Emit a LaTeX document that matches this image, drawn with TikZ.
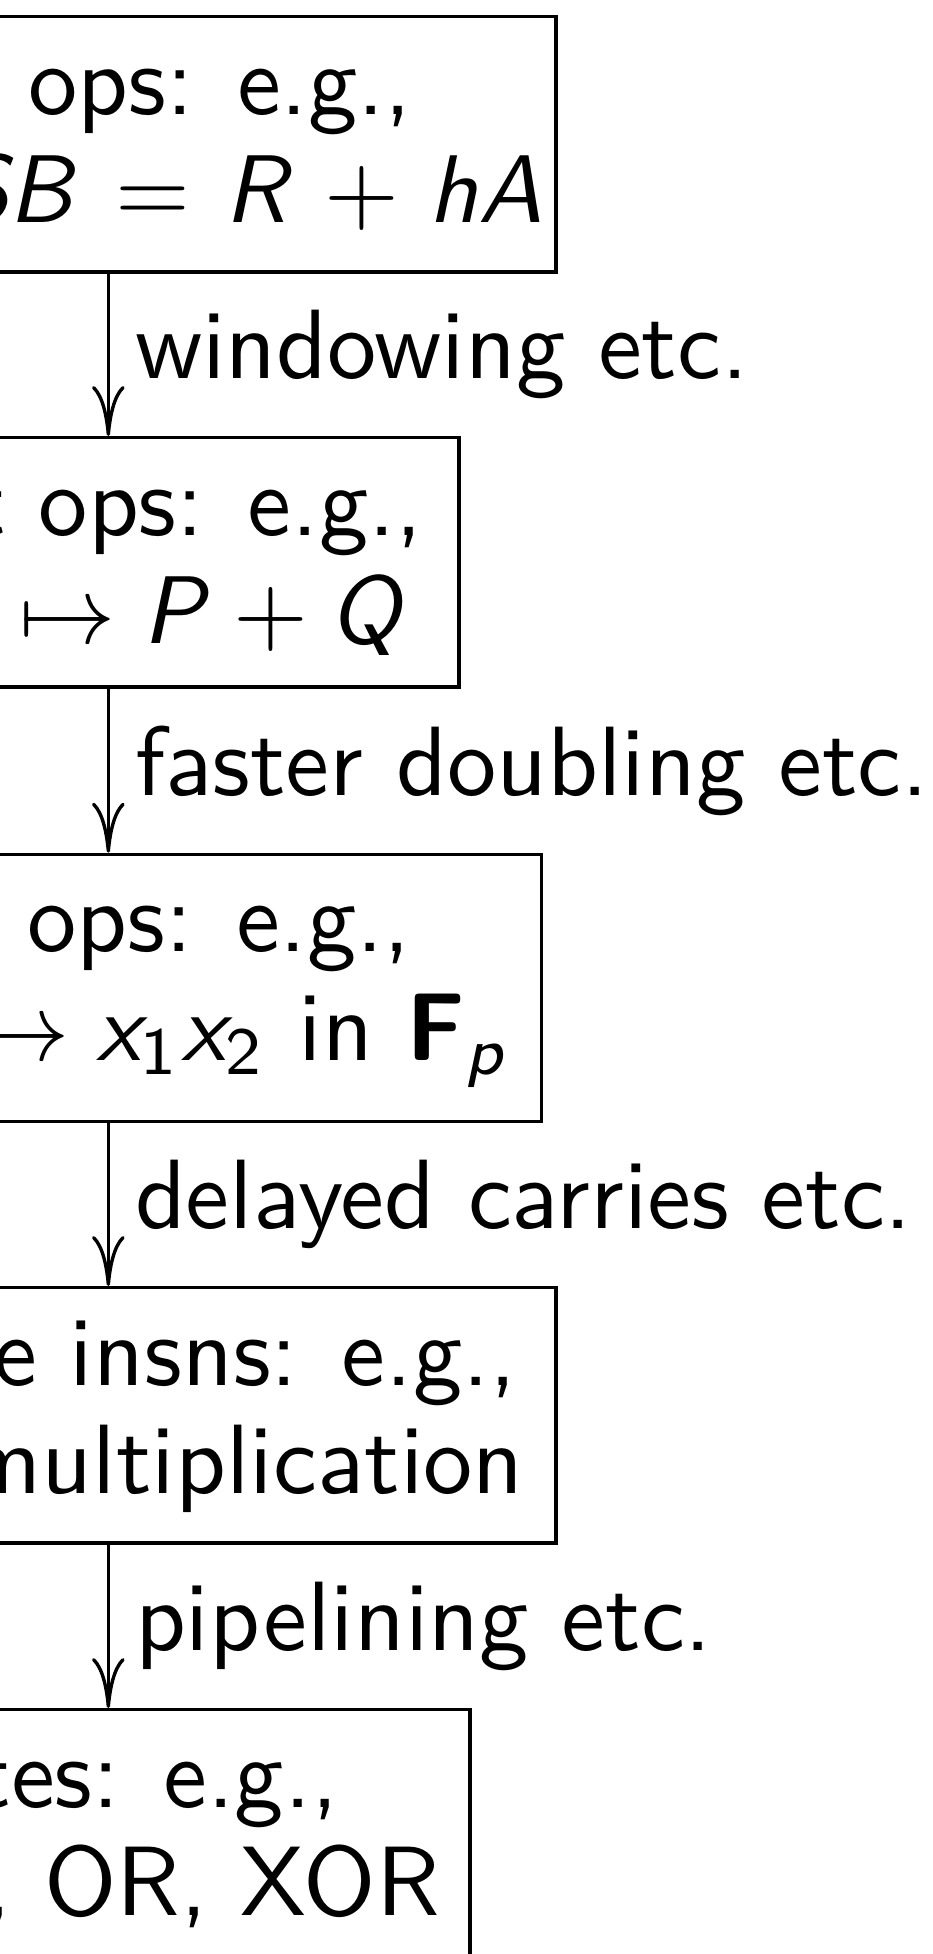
\documentclass[tikz,border=0pt]{standalone}
\usepackage{tikz}
\usetikzlibrary{arrows.meta}
\DeclareMathAlphabet{\msl}{OT1}{cmss}{m}{sl}
\DeclareMathAlphabet{\mbf}{OT1}{cmss}{bx}{n}
\SetSymbolFont{operators}{normal}{OT1}{cmss}{m}{n}

\begin{document}
\begin{tikzpicture}[>={Computer Modern Rightarrow[length=5.2pt,width=3.4pt]},
    every node/.style={font=\sffamily\fontsize{10.25}{11.3}\selectfont},
    opsbox/.style={draw, line width=0.35pt, anchor=north, align=flush right, inner sep=3.333pt, text height=6.8pt},
    steplabel/.style={right, inner xsep=2.6pt}]
      \useasboundingbox (0,0) rectangle (3.4104,-7.1425);
      \node[opsbox, text width=86.45pt, text depth=13.1pt] (sc) at (0.396,-0.0548) {ops: e.g.,\hspace*{11.6pt}\mbox{}\\ $\thickmuskip=6.5mu \medmuskip=5.5mu \msl{S}\msl{B}=\msl{R}+\msl{h}\msl{A}$\hspace*{-1.9pt}\mbox{}};
      \node[opsbox, text width=66.28pt, text depth=12.45pt] (pt) at (0.396,-1.5937) {t ops: e.g.,\hspace*{0.4pt}\mbox{}\\ $\mapsto\msl{P}+\msl{Q}$\hspace*{2pt}\mbox{}};
      \node[opsbox, text width=83.44pt, text depth=14.3pt] (fd) at (0.396,-3.1169) {ops: e.g.,\hspace*{10.2pt}\mbox{}\\ $\mapsto\msl{x}_1\msl{x}_2$ in $\mbf{F}_{\msl{p}}$};
      \node[opsbox, text width=86.45pt, text depth=13.1pt] (mi) at (0.396,-4.7007) {e insns: e.g.,\hspace*{0.7pt}\mbox{}\\ multiplication};
      \node[opsbox, text width=68.57pt, text depth=13.1pt] (gt) at (0.396,-6.2433) {tes: e.g.,\hspace*{10.3pt}\mbox{}\\ , OR, XOR\hspace*{-0.2pt}\mbox{}};
      \draw[->, line width=0.35pt] (sc) -- node[steplabel] {windowing etc.} (pt);
      \draw[->, line width=0.35pt] (pt) -- node[steplabel] {faster doubling etc.} (fd);
      \draw[->, line width=0.35pt] (fd) -- node[steplabel] {delayed carries etc.} (mi);
      \draw[->, line width=0.35pt] (mi) -- node[steplabel] {pipelining etc.} (gt);
    \end{tikzpicture}
\end{document}
